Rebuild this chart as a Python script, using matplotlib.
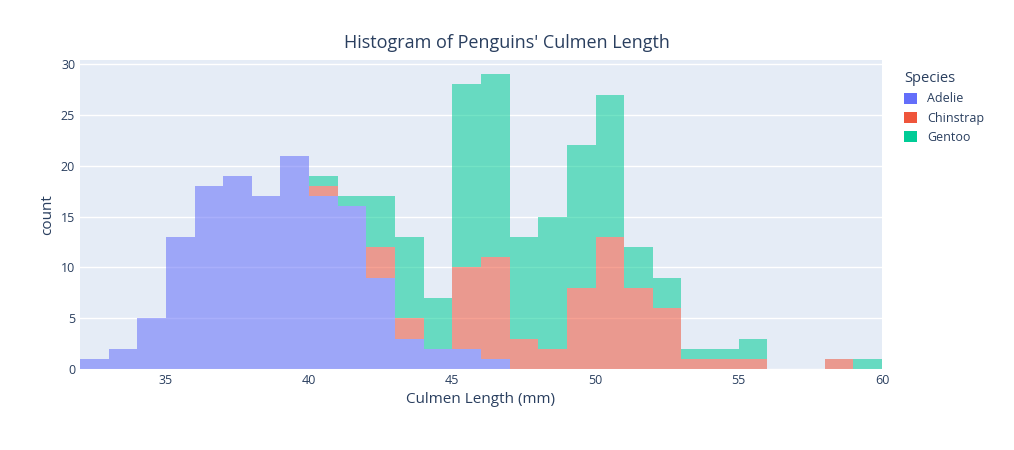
import matplotlib
matplotlib.use("Agg")
import matplotlib.pyplot as plt
import numpy as np

bin_left = list(range(32, 60))
adelie =    [1,2,5,13,18,19,17,21,17,16,9,3,2,2,1,0,0,0,0,0,0,0,0,0,0,0,0,0]
chinstrap = [0,0,0,0,0,0,0,0,1,0,3,2,0,8,10,3,2,8,13,8,6,1,1,1,0,0,1,0]
gentoo =    [0,0,0,0,0,0,0,0,1,1,5,8,5,18,18,10,13,14,14,4,3,1,1,2,0,0,0,1]
names = ["Adelie", "Chinstrap", "Gentoo"]
colors = ["#636efa", "#EF553B", "#00cc96"]

plt.rcParams['font.family'] = ['Open Sans', 'DejaVu Sans']
fig = plt.figure(figsize=(10.14, 4.5), dpi=100)
ax = fig.add_axes([80/1014, 81/450, 802/1014, 309/450])
ax.set_facecolor("#E5ECF6")
bottom = np.zeros(len(bin_left))
for n, vals, c in zip(names, [adelie, chinstrap, gentoo], colors):
    ax.bar(bin_left, vals, width=1, align="edge", bottom=bottom, color=c, alpha=0.55,
           label=n, linewidth=0)
    bottom = bottom + np.array(vals)
ax.set_xlim(32, 60)
ax.set_ylim(0, 30.4)
ax.set_yticks(range(0, 31, 5))
ax.set_xticks(range(35, 61, 5))
ax.grid(axis="y", color="white", linewidth=1)
ax.set_axisbelow(True)
for s in ax.spines.values():
    s.set_visible(False)
ax.tick_params(length=0, colors="#2a3f5f", labelsize=9)
ax.set_xlabel("Culmen Length (mm)", color="#2a3f5f", fontsize=11)
ax.set_ylabel("count", color="#2a3f5f", fontsize=11)
fig.text(507/1014, 1-43/450, "Histogram of Penguins' Culmen Length", ha="center", va="center",
         color="#2a3f5f", fontsize=13)
leg = fig.legend(loc="upper left", bbox_to_anchor=(893/1014, 1-60/450), frameon=False,
                 title="Species", fontsize=9, title_fontsize=10.5, handlelength=1, handleheight=1,
                 alignment="left", labelcolor="#2a3f5f")
leg.get_title().set_color("#2a3f5f")
for h in leg.legend_handles:
    h.set_alpha(1)
fig.savefig("out.png")
